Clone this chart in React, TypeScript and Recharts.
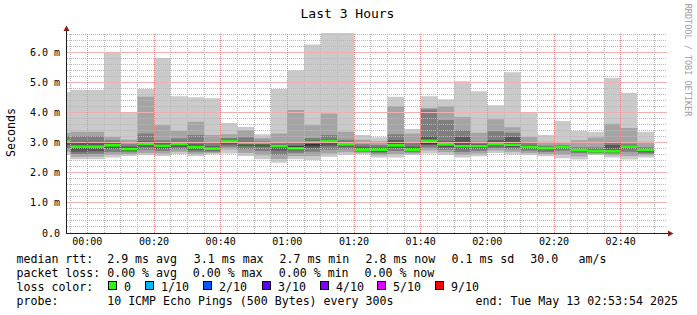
import { ComposedChart, Area, XAxis, YAxis, ReferenceLine } from 'recharts';

// 5 minute bins, minutes relative to 00:00 (first one is the partial bin at the left edge)
const binStart = [
  -6.1, -5, 0, 5, 10, 15, 20, 25, 30, 35, 40, 45, 50, 55, 60, 65, 70, 75,
  80, 85, 90, 95, 100, 105, 110, 115, 120, 125, 130, 135, 140, 145, 150, 155, 160, 165,
];
const binEnd = 170;

// sorted ping rtts per bin (ms), ping1 = fastest, ping10 = slowest
const ping1 = [2.60, 2.45, 2.45, 2.51, 2.56, 2.59, 2.56, 2.62, 2.56, 2.61, 2.64, 2.56, 2.45, 2.33, 2.45, 2.42, 2.53, 2.59, 2.61, 2.51, 2.51, 2.59, 2.64, 2.59, 2.51, 2.55, 2.66, 2.61, 2.59, 2.55, 2.48, 2.44, 2.59, 2.51, 2.44, 2.51];
const ping2 = [2.70, 2.53, 2.54, 2.60, 2.62, 2.66, 2.64, 2.70, 2.63, 2.66, 2.77, 2.66, 2.58, 2.46, 2.56, 2.56, 2.64, 2.68, 2.66, 2.58, 2.62, 2.64, 2.75, 2.68, 2.60, 2.64, 2.74, 2.70, 2.66, 2.62, 2.60, 2.55, 2.62, 2.58, 2.56, 2.58];
const ping3 = [2.80, 2.62, 2.63, 2.69, 2.68, 2.76, 2.72, 2.78, 2.70, 2.70, 2.86, 2.78, 2.72, 2.60, 2.66, 2.70, 2.76, 2.78, 2.70, 2.65, 2.72, 2.68, 2.84, 2.76, 2.69, 2.72, 2.81, 2.78, 2.73, 2.69, 2.73, 2.66, 2.66, 2.64, 2.70, 2.64];
const ping4 = [2.92, 2.70, 2.71, 2.80, 2.72, 2.86, 2.80, 2.86, 2.76, 2.74, 2.94, 2.88, 2.86, 2.74, 2.74, 2.82, 2.90, 2.86, 2.72, 2.70, 2.82, 2.72, 2.92, 2.84, 2.78, 2.80, 2.87, 2.85, 2.79, 2.75, 2.80, 2.70, 2.68, 2.68, 2.80, 2.68];
const ping5 = [3.00, 2.80, 2.81, 2.86, 2.74, 2.92, 2.85, 2.92, 2.81, 2.76, 3.00, 2.95, 2.95, 2.84, 2.78, 2.90, 3.00, 2.90, 2.73, 2.73, 2.87, 2.74, 2.96, 2.90, 2.84, 2.85, 2.91, 2.90, 2.83, 2.79, 2.83, 2.72, 2.69, 2.69, 2.84, 2.70];
const ping6 = [3.09, 2.92, 2.92, 2.95, 2.82, 3.00, 2.93, 3.00, 2.89, 2.84, 3.08, 3.03, 3.02, 2.91, 2.88, 3.05, 3.07, 2.97, 2.81, 2.80, 2.95, 2.80, 3.10, 2.98, 2.92, 2.92, 2.99, 2.97, 2.90, 2.85, 2.89, 2.78, 2.75, 2.76, 2.90, 2.78];
const ping7 = [3.12, 3.03, 3.03, 2.98, 2.86, 3.05, 2.98, 3.02, 2.95, 2.88, 3.10, 3.05, 3.03, 2.93, 2.90, 3.08, 3.10, 3.00, 2.86, 2.84, 3.08, 2.86, 3.20, 3.05, 3.19, 2.95, 3.08, 3.19, 2.92, 2.86, 2.90, 2.79, 2.77, 2.92, 2.92, 2.80];
const ping8 = [3.22, 3.21, 3.21, 3.08, 2.95, 3.30, 3.08, 3.14, 3.25, 3.00, 3.15, 3.18, 3.06, 3.00, 3.00, 3.15, 3.25, 3.10, 2.95, 2.92, 3.28, 3.00, 4.10, 3.75, 3.41, 3.03, 3.38, 3.33, 3.00, 2.90, 2.92, 2.85, 2.85, 3.03, 2.97, 2.85];
const ping9 = [3.33, 3.36, 3.36, 3.19, 3.10, 4.52, 3.58, 3.39, 3.69, 3.25, 3.28, 3.41, 3.15, 3.30, 4.08, 3.58, 3.97, 3.36, 3.10, 3.05, 4.21, 3.30, 4.15, 4.21, 3.85, 3.33, 3.78, 3.51, 3.19, 3.03, 2.99, 3.08, 3.17, 3.63, 3.49, 3.03];
const ping10 = [4.68, 4.76, 4.76, 6.01, 4.02, 4.78, 5.81, 4.54, 4.51, 4.47, 3.65, 3.52, 3.28, 4.78, 5.40, 6.26, 6.64, 6.64, 3.25, 3.18, 4.52, 3.45, 4.54, 4.44, 5.04, 4.71, 4.24, 5.34, 4.01, 3.25, 3.72, 3.39, 3.36, 5.15, 4.66, 3.36];
const median = [3.06, 2.87, 2.87, 2.91, 2.78, 2.96, 2.89, 2.96, 2.85, 2.80, 3.04, 2.99, 2.99, 2.88, 2.81, 3.02, 3.04, 2.94, 2.77, 2.77, 2.91, 2.77, 3.06, 2.94, 2.88, 2.88, 2.95, 2.93, 2.86, 2.82, 2.86, 2.75, 2.72, 2.72, 2.87, 2.75];

const yTicks = [0, 1, 2, 3, 4, 5, 6];
const xTicks = [0, 20, 40, 60, 80, 100, 120, 140, 160];

const rttStats = ['median rtt:', '2.9 ms avg', '3.1 ms max', '2.7 ms min', '2.8 ms now', '0.1 ms sd', '30.0', 'am/s'];
const lossStats = ['packet loss:', '0.00 % avg', '0.00 % max', '0.00 % min', '0.00 % now'];
const lossLabels = ['0', '1/10', '2/10', '3/10', '4/10', '5/10', '9/10'];
const lossColors = ['#26ff00', '#00b8ff', '#0059ff', '#5e00ff', '#7e00ff', '#dd00ff', '#ff0000'];
const probeText = ['probe:', '10 ICMP Echo Pings (500 Bytes) every 300s', 'end: Tue May 13 02:53:54 2025'];

const SMOKE = ['#cacaca', '#a4a4a4', '#7e7e7e', '#585858', '#323232'];
const FONT = '"DejaVu Sans Mono", monospace';

const pings = [ping1, ping2, ping3, ping4, ping5, ping6, ping7, ping8, ping9, ping10];
const rows = binStart.map((t, i) => ({ t, p: pings.map((a) => a[i]), med: median[i] }));
rows.push({ ...rows[rows.length - 1], t: binEnd });

const minorY: number[] = [];
for (let i = 1; i <= 33; i++) if (i % 5 !== 0) minorY.push(i / 5);
const minorX: number[] = [];
for (let m = -5; m <= 170; m += 5) if (m % 20 !== 0) minorX.push(m);

const fmtTime = (t: number) => {
  const m = ((Math.round(t) % 1440) + 1440) % 1440;
  return `${String(Math.floor(m / 60)).padStart(2, '0')}:${String(m % 60).padStart(2, '0')}`;
};

// legend x positions
const rttX = [16.5, 107.2, 193.8, 279.5, 365.5, 451.5, 530.2, 578.5];
const lossX = [16.5, 107.2, 192.8, 278.8, 364.5];
const boxX = [108.5, 145.5, 203.5, 262.5, 320.5, 377.5, 435.5];
const probeX = [16.5, 107.2, 475.5];

const MINOR = '#b8b8b8';
const MAJOR = '#e68888';
const MAJOR_H = '#efb0b0';

export default function App() {
  return (
    <div style={{ position: 'absolute', left: 0, top: 0, width: 697, height: 315, background: '#fff' }}>
      <ComposedChart
        width={697}
        height={315}
        data={rows}
        margin={{ top: 33, right: 30, left: 0, bottom: 0 }}
      >
        <XAxis
          dataKey="t"
          type="number"
          domain={[-6.1, 173.9]}
          allowDataOverflow
          ticks={xTicks}
          tickFormatter={fmtTime}
          height={82}
          axisLine={false}
          tickLine={false}
          tickSize={0}
          tickMargin={4.5}
          tick={{ fontFamily: FONT, fontSize: 10, fill: '#000' }}
        />
        <YAxis
          type="number"
          domain={[0, 6.64]}
          allowDataOverflow
          ticks={yTicks}
          tickFormatter={(v: number) => (v === 0 ? '0.0' : `${v.toFixed(1)} m`)}
          width={67}
          axisLine={false}
          tickLine={false}
          tickSize={0}
          tickMargin={7}
          tick={{ fontFamily: FONT, fontSize: 10, fill: '#000' }}
        />
        {SMOKE.map((c, k) => (
          <Area
            key={c}
            dataKey={(d: any) => [d.p[k], d.p[9 - k]]}
            type="stepAfter"
            stroke="none"
            fill={c}
            fillOpacity={1}
            dot={false}
            activeDot={false}
            isAnimationActive={false}
          />
        ))}
        <Area
          dataKey={(d: any) => [d.med - 0.045, d.med + 0.045]}
          type="stepAfter"
          stroke="none"
          fill={lossColors[0]}
          fillOpacity={1}
          dot={false}
          activeDot={false}
          isAnimationActive={false}
        />
        {minorY.map((v) => (
          <ReferenceLine key={`hy${v}`} y={v} stroke={MINOR} strokeDasharray="1 1" shapeRendering="crispEdges" />
        ))}
        {minorX.map((v) => (
          <ReferenceLine key={`vx${v}`} x={v} stroke={MINOR} strokeDasharray="1 1" shapeRendering="crispEdges" />
        ))}
        {yTicks.slice(1).map((v) => (
          <ReferenceLine key={`my${v}`} y={v} stroke={MAJOR_H} strokeWidth={1} shapeRendering="crispEdges" />
        ))}
        {xTicks.map((v) => (
          <ReferenceLine key={`mx${v}`} x={v} stroke={MAJOR} strokeDasharray="1 1" shapeRendering="crispEdges" />
        ))}
      </ComposedChart>
      <svg
        width={697}
        height={315}
        style={{ position: 'absolute', left: 0, top: 0, pointerEvents: 'none' }}
        fontFamily={FONT}
      >
        <text x={347.5} y={18.3} fontSize={13} textAnchor="middle" fill="#000">Last 3 Hours</text>
        <text transform="translate(15,132.5) rotate(-90)" fontSize={11.6} textAnchor="middle" fill="#000">Seconds</text>
        <text transform="translate(685,60) rotate(90)" fontSize={8.5} textAnchor="middle" fill="#9e9e9e">RRDTOOL / TOBI OETIKER</text>

        <line x1={66.5} y1={29} x2={66.5} y2={234} stroke="#1f1f1f" />
        <line x1={66} y1={233.5} x2={670} y2={233.5} stroke="#1f1f1f" />
        <polygon points="63.5,31 69.5,31 66.5,25.5" fill="#8b1a1a" />
        <polygon points="668,230.5 668,236.5 673.5,233.5" fill="#8b1a1a" />

        <g fontSize={11.6} fill="#000" style={{ whiteSpace: 'pre' }}>
          {rttStats.map((s, i) => (
            <text key={s} x={rttX[i]} y={262.7}>{s}</text>
          ))}
          {lossStats.map((s, i) => (
            <text key={s} x={lossX[i]} y={276.7}>{s}</text>
          ))}
          <text x={16.5} y={290.7}>loss color:</text>
          {lossLabels.map((s, i) => (
            <g key={s}>
              <rect x={boxX[i]} y={281.5} width={8} height={8} fill={lossColors[i]} stroke="#000" />
              <text x={boxX[i] + 15.5} y={290.7}>{s}</text>
            </g>
          ))}
          {probeText.map((s, i) => (
            <text key={s} x={probeX[i]} y={304.7}>{s}</text>
          ))}
        </g>
      </svg>
    </div>
  );
}
